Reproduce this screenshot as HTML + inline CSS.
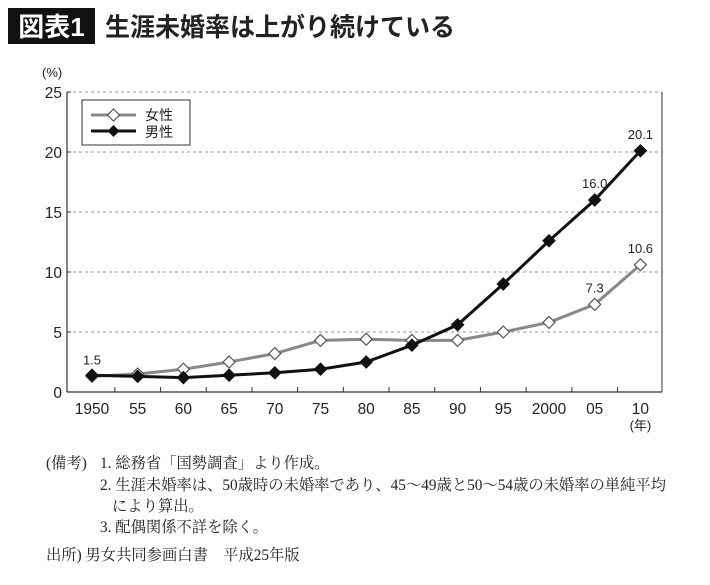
<!DOCTYPE html>
<html><head><meta charset="utf-8"><style>
body{margin:0;background:#fff;}
svg text{font-family:"Liberation Sans","Noto Sans CJK JP",sans-serif;}
.note{font-family:"Liberation Serif","Noto Serif CJK SC",serif;font-size:15.3px;fill:#222;}
</style></head><body>
<svg width="710" height="580" viewBox="0 0 710 580" xmlns="http://www.w3.org/2000/svg">
<rect x="8" y="8" width="87" height="36" fill="#111"/>
<text x="51.5" y="36" text-anchor="middle" font-size="26" font-weight="bold" fill="#fff">図表1</text>
<text x="105" y="36" font-size="25.5" font-weight="bold" fill="#222" textLength="350" lengthAdjust="spacingAndGlyphs">生涯未婚率は上がり続けている</text>
<text x="42" y="77" font-size="13" fill="#222">(%)</text>
<g id="grid"></g>
<g id="axes"></g>
<g id="series"></g>
<g>
<rect x="82" y="100" width="108" height="45" fill="#fff" stroke="#333" stroke-width="1"/>
<line x1="91" y1="115" x2="136" y2="115" stroke="#888" stroke-width="3"/>
<path d="M113.5 109 L119.5 115 L113.5 121 L107.5 115 Z" fill="#fff" stroke="#555" stroke-width="1.2"/>
<text x="145" y="120" font-size="14" fill="#222">女性</text>
<line x1="91" y1="131" x2="136" y2="131" stroke="#111" stroke-width="3"/>
<path d="M113.5 125 L119.5 131 L113.5 137 L107.5 131 Z" fill="#111"/>
<text x="145" y="137" font-size="14" fill="#222">男性</text>
</g>
<g>
<text class="note" x="46" y="468">(備考)</text>
<text class="note" x="100" y="468">1. 総務省「国勢調査」より作成。</text>
<text class="note" x="100" y="490">2. 生涯未婚率は、50歳時の未婚率であり、45〜49歳と50〜54歳の未婚率の単純平均</text>
<text class="note" x="112" y="511">により算出。</text>
<text class="note" x="100" y="532">3. 配偶関係不詳を除く。</text>
<text class="note" x="46" y="560">出所) 男女共同参画白書　平成25年版</text>
</g>
</svg>
<script>
const categories=["1950","55","60","65","70","75","80","85","90","95","2000","05","10"];
const female=[1.3,1.5,1.9,2.5,3.2,4.3,4.4,4.3,4.3,5.0,5.8,7.3,10.6];
const male=[1.4,1.3,1.2,1.4,1.6,1.9,2.5,3.9,5.6,9.0,12.6,16.0,20.1];
const yTicks=[0,5,10,15,20,25];
const labelsF={0:"1.5",11:"7.3",12:"10.6"};
const labelsM={11:"16.0",12:"20.1"};
const NS="http://www.w3.org/2000/svg";
const L=67,R=662,T=92,B=392,X0=92,DX=45.7;
const xs=i=>X0+i*DX, ys=v=>B-(v/25)*(B-T);
function mk(tag,attrs,parent,txt){const e=document.createElementNS(NS,tag);for(const k in attrs)e.setAttribute(k,attrs[k]);if(txt!==undefined)e.textContent=txt;parent.appendChild(e);return e;}
const grid=document.getElementById('grid'),axes=document.getElementById('axes'),ser=document.getElementById('series');
yTicks.forEach(t=>{
 if(t>0){const g=mk('line',{x1:L,x2:R,y1:ys(t),y2:ys(t),stroke:'#999','stroke-dasharray':'3,3','stroke-width':1},grid);
 
 }
 const tl=mk('text',{x:L-5,y:ys(t)+6,'text-anchor':'end','font-size':15.5,fill:'#222'},axes,String(t));
 
 
 mk('line',{x1:L,x2:L+4,y1:ys(t),y2:ys(t),stroke:'#333'},axes);
});
mk('line',{x1:L,x2:L,y1:T,y2:B,stroke:'#333','stroke-width':1.2},axes);
mk('line',{x1:R,x2:R,y1:T,y2:B,stroke:'#333','stroke-width':1},axes);
mk('line',{x1:L,x2:R,y1:B,y2:B,stroke:'#333','stroke-width':1.2},axes);
categories.forEach((c,i)=>{
 if(i>0){mk('line',{x1:xs(i)-DX/2,x2:xs(i)-DX/2,y1:B,y2:B-5,stroke:'#333'},axes);}
 const t=mk('text',{x:xs(i),y:B+22,'text-anchor':'middle','font-size':15.5,fill:'#222'},axes,c);
 
 
});
mk('text',{x:xs(12),y:B+38,'text-anchor':'middle','font-size':13,fill:'#222'},axes,'(年)');
function draw(vals,color,fill,name,labels){
 const pl=mk('polyline',{points:vals.map((v,i)=>xs(i)+','+ys(v)).join(' '),fill:'none',stroke:color,'stroke-width':3},ser);
 
 
 vals.forEach((v,i)=>{const x=xs(i),y=ys(v);
  const p=mk('path',{d:`M${x} ${y-6} L${x+6} ${y} L${x} ${y+6} L${x-6} ${y} Z`,fill:fill,stroke:fill==='#fff'?'#555':'#111','stroke-width':1.2},ser);
  
  
  if(labels[i]){const t=mk('text',{x:x,y:y-12,'text-anchor':'middle','font-size':13,fill:'#222'},ser,labels[i]);
   
   }
 });
}
draw(female,'#888','#fff','female',labelsF);
draw(male,'#111','#111','male',labelsM);
</script>
</body></html>
